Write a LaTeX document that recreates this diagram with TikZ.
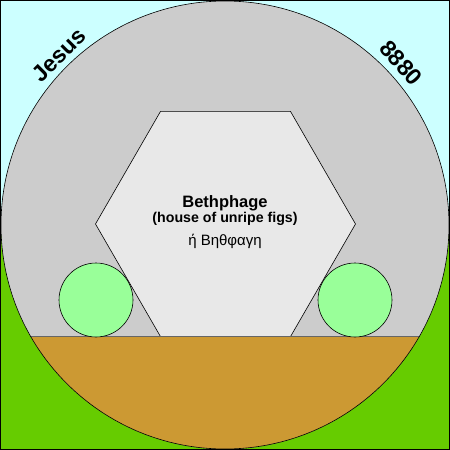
\documentclass[tikz,border=0pt]{standalone}
\usepackage{fontspec}
\setmainfont{Liberation Sans}
\usetikzlibrary{positioning}
\usetikzlibrary{calc}
\usetikzlibrary{shapes.geometric}

\definecolor{skyblue}{HTML}{CCFFFF}
\definecolor{grassgreen}{HTML}{66CC00}
\definecolor{hillgray}{HTML}{CCCCCC}
\definecolor{housegray}{HTML}{E8E8E8}
\definecolor{earth}{HTML}{CC9933}
\definecolor{figgreen}{HTML}{99FF99}

\begin{document}
\begin{tikzpicture}[x=1pt,y=-1pt,semithick]
					\tikzstyle{every node}=[inner sep=0pt]
					\tikzstyle{fig}=[circle,draw=black,fill=figgreen,minimum size=74pt]
					\tikzstyle{arcword}=[font=\fontsize{23}{23}\bfseries\selectfont]
					
					\useasboundingbox (0,0) rectangle (450,450);
					\fill[skyblue] (0,0) rectangle (450,225);
					\fill[grassgreen] (0,225) rectangle (450,450);
					
					\coordinate (C) at (225,225);
					\fill[hillgray] (C) circle (224);
					
					% house
					\node[regular polygon,regular polygon sides=6,outer sep=0pt,
					minimum size=260pt,draw=black,fill=housegray] (house) at (225.5,224) {};
					
					% ground
					\begin{scope}
					\clip (C) circle (224);
					\fill[earth] (0,336) rectangle (450,450);
					\end{scope}
					\draw[thin,black!60] (30,336) -- (420,336);
					
					\node[fig] (figL) at (96,300) {};
					\node[fig] (figR) at (355,300) {};
					
					\draw[black] (C) circle (224);
					\draw[black] (0.5,0.5) rectangle (449.5,449.5);
					
					\node[arcword,rotate=45] (jesus) at (59,55) {Jesus};
					\node[arcword,rotate=-48] (num) at (401,63) {8880};
					
					\node[anchor=base,font=\fontsize{16.5}{17}\bfseries\selectfont] (name) at (225,207) {Bethphage};
					\node[anchor=base,font=\fontsize{14.2}{15}\bfseries\selectfont] (meaning) at (225,222) {(house of unripe figs)};
					\node[anchor=base,font=\fontsize{15}{16}\selectfont] (greek) at (225,245) {ή Βηθφαγη};
\end{tikzpicture}
\end{document}
